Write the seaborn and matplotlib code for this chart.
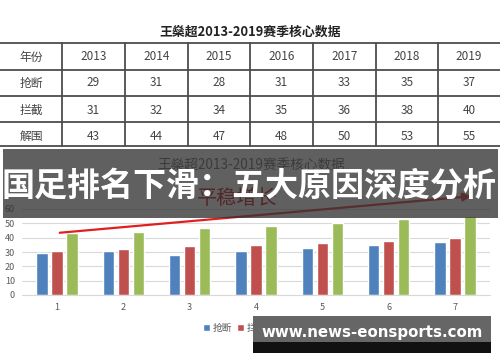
import pandas as pd
import seaborn as sns
import matplotlib.pyplot as plt
from matplotlib.patches import Rectangle

# data
years = ["2013", "2014", "2015", "2016", "2017", "2018", "2019"]
steals = [29, 31, 28, 31, 33, 35, 37]
intercepts = [31, 32, 34, 35, 36, 38, 40]
clearances = [43, 44, 47, 48, 50, 53, 55]
series_names = ["抢断", "拦截", "解围"]
chart_x = ["1", "2", "3", "4", "5", "6", "7"]

table_title = "王燊超2013-2019赛季核心数据"
banner_text = "国足排名下滑：五大原因深度分析"
trend_text = "平稳增长"
watermark = "www.news-eonsports.com"

palette = ["#4F81BD", "#C0504D", "#9BBB59"]

sns.set_style("white")
plt.rcParams["font.family"] = ["Noto Sans CJK SC", "DejaVu Sans"]

W, H = 500, 362
fig = plt.figure(figsize=(W / 100, H / 100), dpi=100)

# ---- bar chart ----
df = pd.DataFrame({
    "x": chart_x * 3,
    "series": [s for s in series_names for _ in chart_x],
    "value": steals + intercepts + clearances,
})

ax = fig.add_axes([22 / W, 1 - 295 / H, 468 / W, 86 / H])
sns.barplot(data=df, x="x", y="value", hue="series", palette=palette,
            width=0.68, gap=0.24, saturation=1, ax=ax, legend=True)
ax.set_ylim(0, 60)
ax.set_xlim(-0.53, 6.53)
ax.set_yticks(range(0, 61, 10))
ax.yaxis.grid(True, color="#d9d9d9", lw=0.8)
ax.set_axisbelow(True)
for s in ["top", "right", "left"]:
    ax.spines[s].set_visible(False)
ax.spines["bottom"].set_color("#d9d9d9")
ax.tick_params(axis="both", length=0, labelsize=6.5, colors="#595959")
ax.tick_params(axis="x", pad=6)
ax.tick_params(axis="y", pad=5)
ax.set_xlabel("")
ax.set_ylabel("")

handles, labels = ax.get_legend_handles_labels()
ax.get_legend().remove()
ax.legend(handles, labels, loc="center", bbox_to_anchor=(252 / W, 1 - 328 / H),
          bbox_transform=fig.transFigure, ncol=3, frameon=False,
          handlelength=0.7, handleheight=0.7, handletextpad=0.3,
          columnspacing=0.5, fontsize=7, labelcolor="#595959")

# ---- overlay: table, banner, watermark ----
ov = fig.add_axes([0, 0, 1, 1], zorder=2)
ov.set_xlim(0, W)
ov.set_ylim(H, 0)
ov.axis("off")
ov.patch.set_alpha(0)

ov.text(250, 32, table_title, ha="center", va="center", fontsize=9.3,
        fontweight="bold", color="#222222")

col_edges = [62, 125, 188, 250, 313, 376, 438, 500]
col_centers = [31] + [(col_edges[i] + col_edges[i + 1]) / 2 for i in range(7)]
row_lines = [43, 70, 96, 122, 146]
for y in row_lines:
    ov.plot([0, W], [y, y], color="#4d4d4d", lw=1.3)
for x in col_edges[:-1]:
    ov.plot([x, x], [43, 146], color="#4d4d4d", lw=1.3)

rows = [["年份"] + years,
        [series_names[0]] + [str(v) for v in steals],
        [series_names[1]] + [str(v) for v in intercepts],
        [series_names[2]] + [str(v) for v in clearances]]
row_centers = [57, 83, 110, 136]
for r, yc in zip(rows, row_centers):
    for txt, xc in zip(r, col_centers):
        ov.text(xc, yc, txt, ha="center", va="center", fontsize=8.5,
                color="#444444")

# chart title and trend arrow (partly behind the banner)
ov.text(251, 165, table_title, ha="center", va="center", fontsize=9.8,
        color="#595959", zorder=1)
ov.text(237, 199, trend_text, ha="center", va="center", fontsize=14.5,
        color="#c00000", zorder=1)
ov.annotate("", xy=(474, 196), xytext=(57, 233),
            arrowprops=dict(arrowstyle="-|>", color="#e02020", lw=1.6,
                            mutation_scale=12), zorder=1)

# banner
ov.add_patch(Rectangle((3, 149), 495, 69, facecolor="#333333", alpha=0.78,
                       edgecolor="none", zorder=3))
ov.text(249, 186, banner_text, ha="center", va="center", fontsize=23.8,
        fontweight="bold", color="white", zorder=4)

# watermark
ov.add_patch(Rectangle((253, 316), 238, 26, facecolor="#666666",
                       edgecolor="none", zorder=3))
ov.add_patch(Rectangle((253, 342), 238, 11, facecolor="#111111",
                       edgecolor="none", zorder=3))
ov.text(372, 332, watermark, ha="center", va="center", fontsize=10.8,
        fontweight="bold", color="white", family="DejaVu Sans", zorder=4)

fig.savefig("out.png", dpi=100)
